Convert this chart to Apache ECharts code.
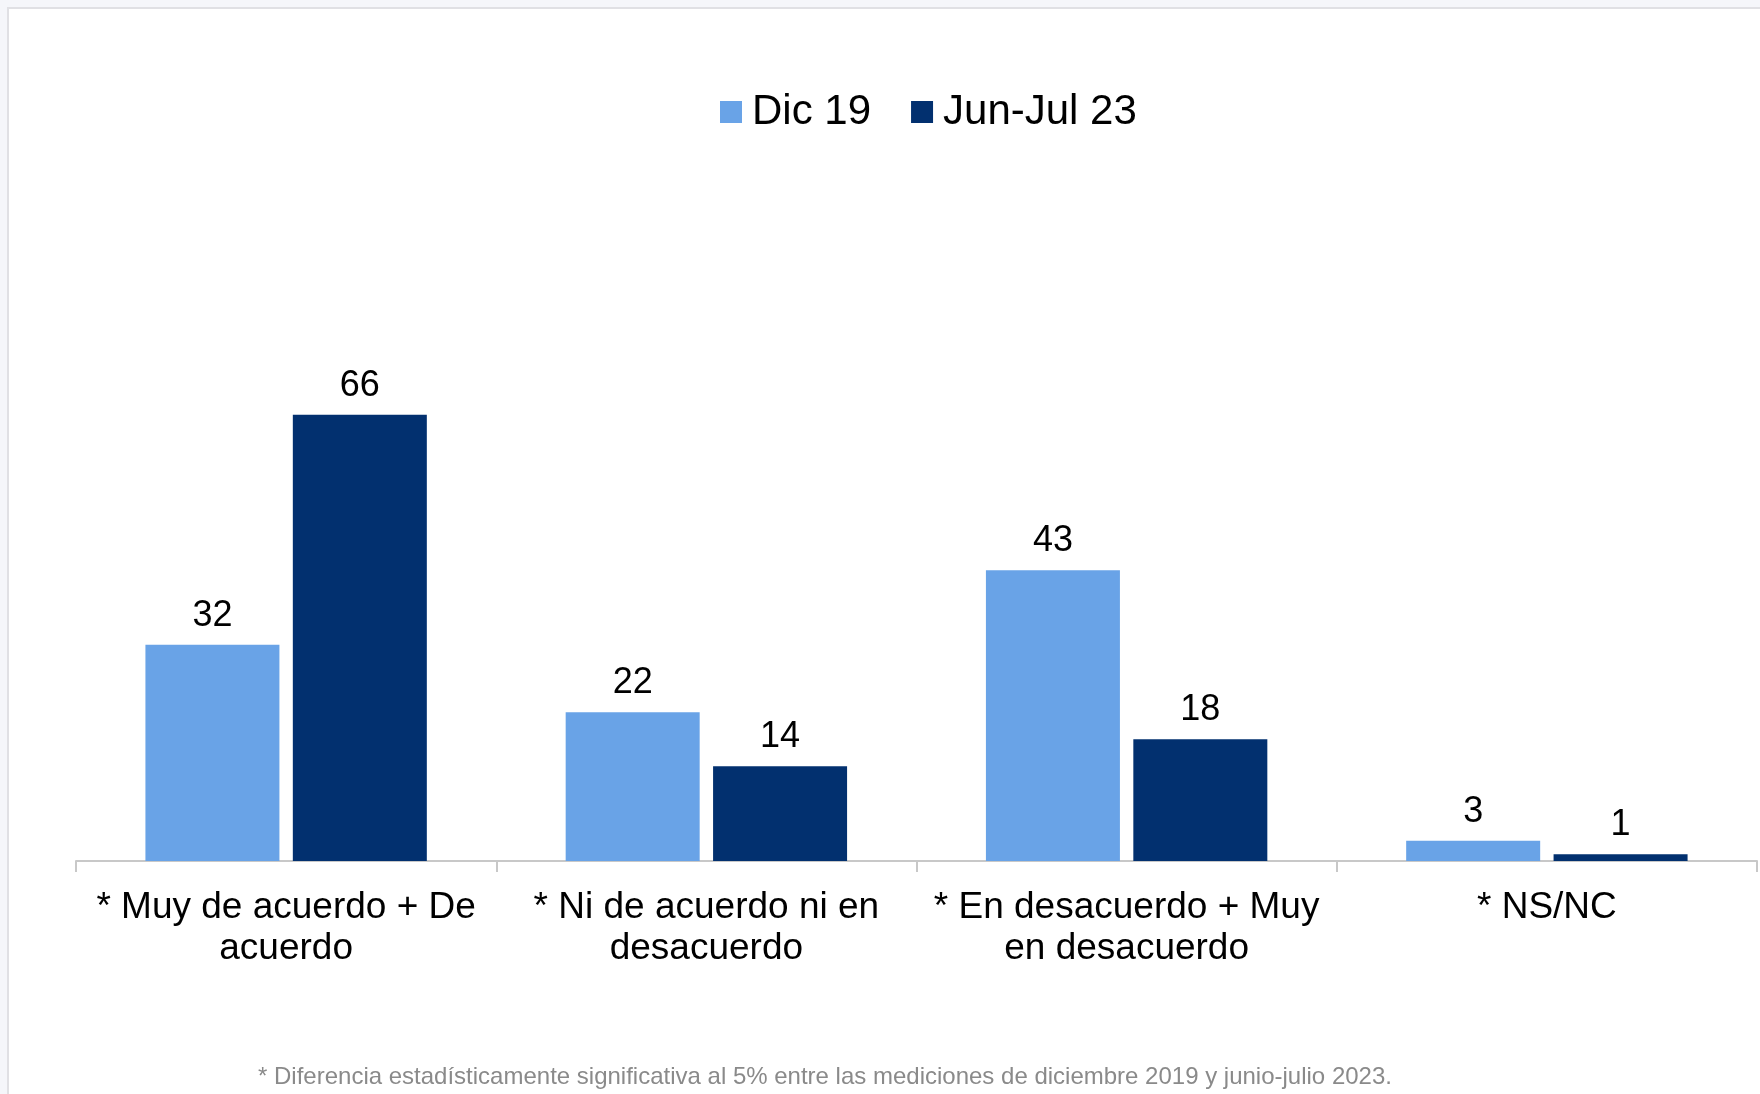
<html>
    <head>
        <meta charset="utf-8">
        <script src="https://cdn.jsdelivr.net/npm/echarts@6/dist/echarts.min.js"></script>
    </head>
    <body>
        <style>
            html, body {
                width: 100%;
                height: 100%;
                margin: 0;
                background: #f5f6fa;
            }
            #main {
                position: absolute;
                left: 7px;
                top: 7px;
                right: 0;
                bottom: 0;
                border-left: 2px solid #e0e0e4;
                border-top: 2px solid #e0e0e4;
                background: #fff;
            }
        </style>
        <div id='main'></div>
        <script>
        var categories = ['* Muy de acuerdo + De\nacuerdo', '* Ni de acuerdo ni en\ndesacuerdo', '* En desacuerdo + Muy\nen desacuerdo', '* NS/NC'];
        var seriesNames = ['Dic 19', 'Jun-Jul 23'];
        var dic19 = [32, 22, 43, 3];
        var junJul23 = [66, 14, 18, 1];
        var footnote = '* Diferencia estadísticamente significativa al 5% entre las mediciones de diciembre 2019 y junio-julio 2023.';

        var font = 'Liberation Sans, Arial, sans-serif';
        var labelStyle = {
            show: true,
            position: 'top',
            distance: 11,
            color: '#000',
            fontSize: 36,
            fontFamily: font
        };

        var chart = echarts.init(document.getElementById('main'));
        var option = {
            animation: false,
            color: ['#69a3e7', '#02306f'],
            legend: {
                left: 706,
                top: 77,
                itemWidth: 22,
                itemHeight: 22,
                itemGap: 40,
                icon: 'rect',
                textStyle: { fontSize: 42, fontFamily: font, color: '#000', padding: [0, 0, 0, 5] },
                data: seriesNames
            },
            grid: { left: 67, right: 3, top: 176, bottom: 233 },
            xAxis: {
                type: 'category',
                data: categories,
                axisLine: { lineStyle: { color: '#c8c8c8', width: 2 } },
                axisTick: { show: true, length: 11, lineStyle: { color: '#c8c8c8', width: 2 } },
                axisLabel: {
                    color: '#000',
                    fontSize: 37,
                    lineHeight: 41,
                    fontFamily: font,
                    margin: 26,
                    interval: 0
                }
            },
            yAxis: {
                type: 'value',
                min: 0,
                max: 100,
                show: false
            },
            series: [
                { name: seriesNames[0], type: 'bar', data: dic19, barWidth: 134, barGap: '10%', label: labelStyle },
                { name: seriesNames[1], type: 'bar', data: junJul23, barWidth: 134, barGap: '10%', label: labelStyle }
            ],
            graphic: [{
                type: 'text',
                left: 249,
                top: 1056,
                style: { text: footnote, fontSize: 24, fontFamily: font, fill: '#8a8a8a' }
            }]
        };
        chart.setOption(option);
        window.onresize = chart.resize;
        </script>
    </body>
</html>
